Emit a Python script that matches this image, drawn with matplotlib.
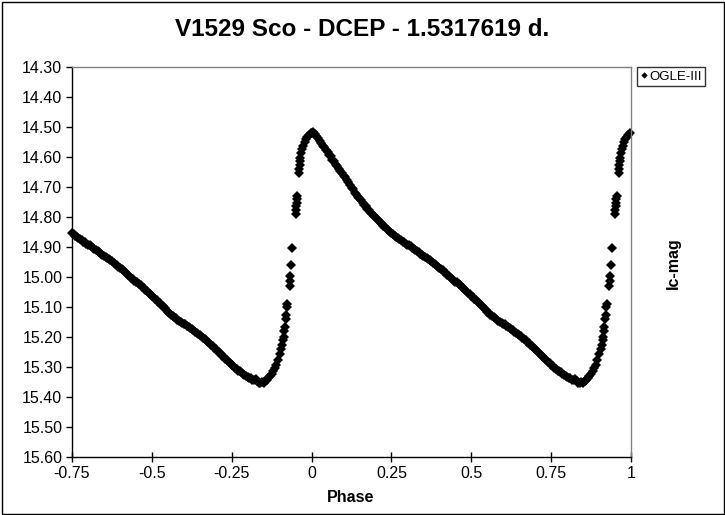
import numpy as np
import matplotlib
matplotlib.use("Agg")
import matplotlib.pyplot as plt
from matplotlib.patches import Rectangle

plt.rcParams["font.family"] = ["Liberation Sans", "DejaVu Sans"]

title = "V1529 Sco - DCEP - 1.5317619 d."
series_name = "OGLE-III"
x_label = "Phase"
y_label = "Ic-mag"
x_ticks = [-0.75, -0.5, -0.25, 0, 0.25, 0.5, 0.75, 1]
x_tick_labels = ["-0.75", "-0.5", "-0.25", "0", "0.25", "0.5", "0.75", "1"]
y_ticks = [14.30, 14.40, 14.50, 14.60, 14.70, 14.80, 14.90, 15.00,
           15.10, 15.20, 15.30, 15.40, 15.50, 15.60]

# folded light curve, one cycle (phase 0..1)
phase = [
    0.000, 0.005, 0.010, 0.015, 0.020, 0.025, 0.030, 0.035, 0.040, 0.045,
    0.050, 0.055, 0.060, 0.065, 0.070, 0.075, 0.080, 0.085, 0.090, 0.095,
    0.100, 0.105, 0.110, 0.115, 0.120, 0.125, 0.130, 0.135, 0.140, 0.145,
    0.150, 0.155, 0.160, 0.165, 0.170, 0.175, 0.180, 0.185, 0.190, 0.195,
    0.200, 0.205, 0.210, 0.215, 0.220, 0.225, 0.230, 0.235, 0.240, 0.245,
    0.250, 0.255, 0.260, 0.265, 0.270, 0.275, 0.280, 0.285, 0.290, 0.295,
    0.300, 0.305, 0.310, 0.315, 0.320, 0.325, 0.330, 0.335, 0.340, 0.345,
    0.350, 0.355, 0.360, 0.365, 0.370, 0.375, 0.380, 0.385, 0.390, 0.395,
    0.400, 0.405, 0.410, 0.415, 0.420, 0.425, 0.430, 0.435, 0.440, 0.445,
    0.450, 0.455, 0.460, 0.465, 0.470, 0.475, 0.480, 0.485, 0.490, 0.495,
    0.500, 0.505, 0.510, 0.515, 0.520, 0.525, 0.530, 0.535, 0.540, 0.545,
    0.550, 0.555, 0.560, 0.565, 0.570, 0.575, 0.580, 0.585, 0.590, 0.595,
    0.600, 0.605, 0.610, 0.615, 0.620, 0.625, 0.630, 0.635, 0.640, 0.645,
    0.650, 0.655, 0.660, 0.665, 0.670, 0.675, 0.680, 0.685, 0.690, 0.695,
    0.700, 0.705, 0.710, 0.715, 0.720, 0.725, 0.730, 0.735, 0.740, 0.745,
    0.750, 0.755, 0.760, 0.765, 0.770, 0.775, 0.780, 0.785, 0.790, 0.795,
    0.800, 0.805, 0.810, 0.815, 0.820, 0.825, 0.830, 0.835, 0.840, 0.845,
    0.850, 0.855, 0.860, 0.865, 0.870, 0.875, 0.880, 0.885, 0.890, 0.895,
    0.900, 0.905, 0.908, 0.911, 0.913, 0.915, 0.917, 0.919, 0.921, 0.922,
    0.924, 0.932, 0.933, 0.934, 0.936, 0.939, 0.950, 0.951, 0.952, 0.953,
    0.954, 0.955, 0.961, 0.962, 0.963, 0.964, 0.965, 0.968, 0.971, 0.974,
    0.978, 0.982, 0.987, 0.992, 0.997,
]
mag = [
    14.520, 14.518, 14.524, 14.530, 14.536, 14.548, 14.552, 14.564, 14.566, 14.578,
    14.582, 14.594, 14.596, 14.610, 14.612, 14.626, 14.630, 14.640, 14.646, 14.652,
    14.662, 14.668, 14.676, 14.684, 14.692, 14.702, 14.708, 14.720, 14.724, 14.732,
    14.738, 14.744, 14.752, 14.760, 14.764, 14.772, 14.776, 14.786, 14.790, 14.796,
    14.800, 14.808, 14.812, 14.816, 14.822, 14.830, 14.832, 14.840, 14.842, 14.850,
    14.852, 14.858, 14.862, 14.866, 14.870, 14.872, 14.878, 14.882, 14.884, 14.890,
    14.892, 14.894, 14.898, 14.904, 14.906, 14.910, 14.912, 14.918, 14.922, 14.926,
    14.930, 14.932, 14.936, 14.940, 14.942, 14.948, 14.952, 14.956, 14.960, 14.966,
    14.970, 14.972, 14.976, 14.982, 14.986, 14.992, 14.996, 15.002, 15.006, 15.012,
    15.016, 15.018, 15.022, 15.028, 15.032, 15.036, 15.042, 15.046, 15.052, 15.056,
    15.062, 15.066, 15.072, 15.076, 15.082, 15.086, 15.092, 15.098, 15.102, 15.110,
    15.116, 15.120, 15.126, 15.130, 15.134, 15.138, 15.142, 15.146, 15.150, 15.152,
    15.156, 15.158, 15.162, 15.166, 15.170, 15.172, 15.176, 15.182, 15.186, 15.190,
    15.194, 15.198, 15.202, 15.206, 15.210, 15.216, 15.220, 15.226, 15.230, 15.236,
    15.240, 15.246, 15.250, 15.256, 15.262, 15.266, 15.272, 15.278, 15.282, 15.288,
    15.292, 15.298, 15.302, 15.306, 15.312, 15.314, 15.318, 15.322, 15.326, 15.330,
    15.332, 15.336, 15.338, 15.342, 15.344, 15.340, 15.348, 15.352, 15.354, 15.350,
    15.352, 15.346, 15.344, 15.338, 15.330, 15.324, 15.314, 15.304, 15.292, 15.276,
    15.258, 15.240, 15.226, 15.210, 15.200, 15.180, 15.166, 15.140, 15.126, 15.100,
    15.090, 15.030, 15.012, 14.998, 14.960, 14.904, 14.790, 14.776, 14.764, 14.752,
    14.740, 14.730, 14.654, 14.640, 14.628, 14.614, 14.602, 14.588, 14.572, 14.562,
    14.550, 14.540, 14.532, 14.526, 14.520,
]

phase = np.array(phase)
mag = np.array(mag)

# the plot shows the cycle twice: phase and phase - 1
keep = phase - 1 >= -0.75
x_all = np.concatenate([phase[keep] - 1, phase])
y_all = np.concatenate([mag[keep], mag])

fig = plt.figure(figsize=(7.25, 5.15), dpi=100)
ax = fig.add_axes([72 / 725, 1 - 457 / 515, (631 - 72) / 725, (457 - 67) / 515])

ax.plot(x_all, y_all, linestyle="none", marker="D", markersize=5.4,
        color="black", markeredgewidth=0, clip_on=False, label=series_name)

ax.set_xlim(-0.75, 1)
ax.set_ylim(15.60, 14.30)
ax.set_xticks(x_ticks)
ax.set_xticklabels(x_tick_labels)
ax.set_yticks(y_ticks)
ax.set_yticklabels([f"{v:.2f}" for v in y_ticks])
ax.tick_params(axis="x", direction="inout", length=7, width=1, labelsize=11.5, pad=3)
ax.tick_params(axis="y", direction="out", length=4, width=1, labelsize=11.5, pad=3)

for side in ["top", "right"]:
    ax.spines[side].set_color("#808080")
    ax.spines[side].set_linewidth(1)
for side in ["left", "bottom"]:
    ax.spines[side].set_color("black")
    ax.spines[side].set_linewidth(1)

fig.text(0.5, 1 - 30 / 515, title, ha="center", va="center",
         fontsize=17.5, fontweight="bold")
fig.text(351 / 725, 1 - 497 / 515, x_label, ha="center", va="center",
         fontsize=11.5, fontweight="bold")
fig.text(673 / 725, 1 - 263 / 515, y_label, ha="center", va="center",
         fontsize=11.5, fontweight="bold", rotation=90)

leg = ax.legend(loc="upper left", bbox_to_anchor=(637 / 725, 1 - 67 / 515),
                bbox_transform=fig.transFigure, frameon=True, fancybox=False,
                borderpad=0.25, handlelength=0.5, handletextpad=0.2,
                borderaxespad=0, fontsize=9.5, markerscale=0.6)
leg.get_frame().set_edgecolor("black")
leg.get_frame().set_linewidth(1)

fig.patches.append(Rectangle((1.5 / 725, 1.5 / 515), 722 / 725, 512 / 515,
                             transform=fig.transFigure, fill=False,
                             edgecolor="black", linewidth=1))

fig.savefig("out.png", dpi=100)
